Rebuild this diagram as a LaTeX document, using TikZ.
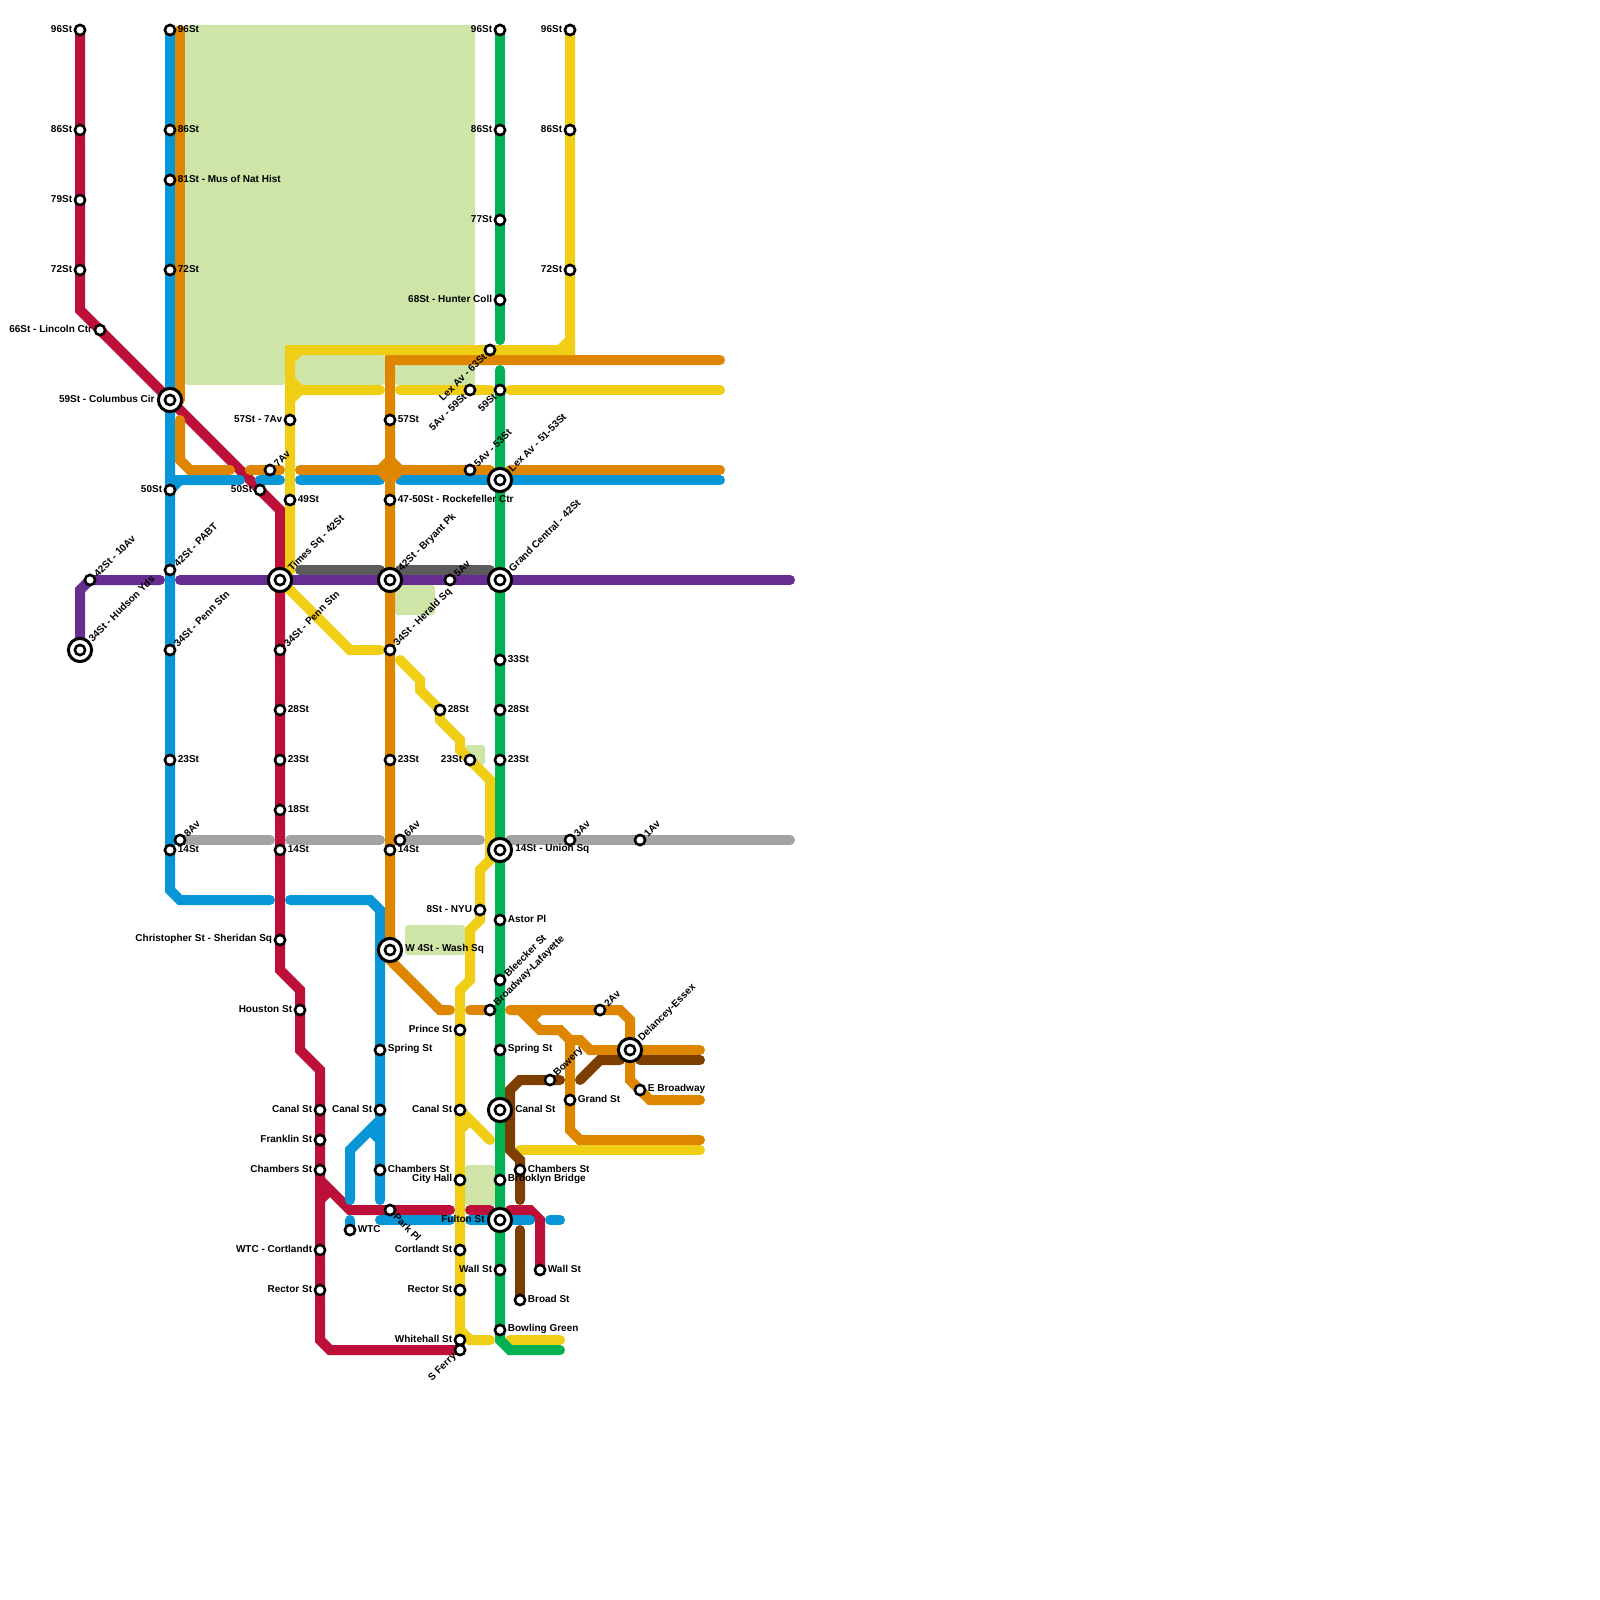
\documentclass[tikz,border=0pt]{standalone}
\usepackage{fontspec}
\setmainfont{Liberation Sans}
\pgfdeclarelayer{parks}
\pgfdeclarelayer{lines}
\pgfsetlayers{parks,lines,main}
\definecolor{cred}{HTML}{BD1038}
\definecolor{cblue}{HTML}{0896D7}
\definecolor{corange}{HTML}{DF8600}
\definecolor{cyellow}{HTML}{F0CE15}
\definecolor{cgreen}{HTML}{00B251}
\definecolor{cpurple}{HTML}{662C90}
\definecolor{cbrown}{HTML}{7C3F00}
\definecolor{cdgrey}{HTML}{5B5B5B}
\definecolor{clgrey}{HTML}{A2A2A2}
\definecolor{cpark}{HTML}{CFE4A7}
\tikzset{
  x=0.5pt,y=-0.5pt,
  stn/.style={circle,draw=black,fill=white,line width=1.3pt,minimum size=5.1pt,inner sep=0pt},
  hubouter/.style={circle,draw=black,fill=white,line width=1.5pt,minimum size=11.6pt,inner sep=0pt},
  hubinner/.style={circle,draw=black,fill=white,line width=1.3pt,minimum size=5.1pt,inner sep=0pt},
  lbl/.style={inner sep=0pt,font=\bfseries\fontsize{5pt}{6pt}\selectfont,text=black},
  metro/.style={line width=5pt,line cap=round,line join=miter,miter limit=4},
  park/.style={fill=cpark,rounded corners=1.5pt},
}
% station with label right / left / rotated up-right / rotated ending at the station
\newcommand{\sR}[4]{\node[stn] (#1) at (#2,#3) {}; \node[lbl,anchor=west] (#1-l) at ([shift={(7.5,-0.8)}]#2,#3) {#4};}
\newcommand{\sL}[4]{\node[stn] (#1) at (#2,#3) {}; \node[lbl,anchor=east] (#1-l) at ([shift={(-7.5,-0.8)}]#2,#3) {#4};}
\newcommand{\sU}[4]{\node[stn] (#1) at (#2,#3) {}; \node[lbl,anchor=west,rotate=45] (#1-l) at ([shift={(5.5,-5)}]#2,#3) {#4};}
\newcommand{\sD}[4]{\node[stn] (#1) at (#2,#3) {}; \node[lbl,anchor=east,rotate=45] (#1-l) at ([shift={(-5,5)}]#2,#3) {#4};}
\newcommand{\sP}[4]{\node[stn] (#1) at (#2,#3) {}; \node[lbl,anchor=west,rotate=-45] (#1-l) at ([shift={(5,5)}]#2,#3) {#4};}
\newcommand{\hubmark}[3]{\node[hubouter] (#1) at (#2,#3) {}; \node[hubinner] (#1-i) at (#2,#3) {};}
\newcommand{\hR}[4]{\hubmark{#1}{#2}{#3} \node[lbl,anchor=west] (#1-l) at ([shift={(15,-0.8)}]#2,#3) {#4};}
\newcommand{\hL}[4]{\hubmark{#1}{#2}{#3} \node[lbl,anchor=east] (#1-l) at ([shift={(-15,-0.8)}]#2,#3) {#4};}
\newcommand{\hU}[4]{\hubmark{#1}{#2}{#3} \node[lbl,anchor=west,rotate=45] (#1-l) at ([shift={(10,-10)}]#2,#3) {#4};}
\begin{document}
\begin{tikzpicture}
\useasboundingbox (0,0) rectangle (1600,1600);
\begin{pgfonlayer}{parks}
\fill[white] (0,0) rectangle (1600,1600);
\fill[park] (185,25) rectangle (475,346);
\fill[park] (185,340) rectangle (285,385);
\fill[park] (295,355) rectangle (385,385);
\fill[park] (395,365) rectangle (475,385);
\fill[park] (395,585) rectangle (435,615);
\fill[park] (465,745) rectangle (485,765);
\fill[park] (405,925) rectangle (465,955);
\fill[park] (465,1165) rectangle (495,1205);
\end{pgfonlayer}
% stations
\sL{a96}{80}{30}{96St} \sL{a86}{80}{130}{86St} \sL{a79}{80}{200}{79St} \sL{a72}{80}{270}{72St}
\sL{a66}{100}{330}{66St - Lincoln Ctr}
\hL{col}{170}{400}{59St - Columbus Cir}
\sR{u96}{170}{30}{96St} \sR{u86}{170}{130}{86St} \sR{u81}{170}{180}{81St - Mus of Nat Hist} \sR{u72}{170}{270}{72St}
\sL{u50}{170}{490}{50St} \sU{u42}{170}{570}{42St - PABT} \sU{u34}{170}{650}{34St - Penn Stn}
\sR{u23}{170}{760}{23St} \sU{u8a}{180}{840}{8Av} \sR{u14}{170}{850}{14St}
\sU{p42}{90}{580}{42St - 10Av} \hU{hy}{80}{650}{34St - Hudson Yds}
\sU{s7a}{270}{470}{7Av} \sL{b50}{260}{490}{50St} \sL{y57}{290}{420}{57St - 7Av} \sR{y49}{290}{500}{49St}
\hU{ts}{280}{580}{Times Sq - 42St} \sU{b34}{280}{650}{34St - Penn Stn}
\sR{b28}{280}{710}{28St} \sR{b23}{280}{760}{23St} \sR{b18}{280}{810}{18St} \sR{b14}{280}{850}{14St}
\sL{chr}{280}{940}{Christopher St - Sheridan Sq} \sL{hou}{300}{1010}{Houston St}
\sL{rca}{320}{1110}{Canal St} \sL{rfr}{320}{1140}{Franklin St} \sL{rch}{320}{1170}{Chambers St}
\sL{rwc}{320}{1250}{WTC - Cortlandt} \sL{rre}{320}{1290}{Rector St}
\sR{bsp}{380}{1050}{Spring St} \sL{bca}{380}{1110}{Canal St} \sR{bch}{380}{1170}{Chambers St}
\sP{ppl}{390}{1210}{Park Pl} \sR{wtc}{350}{1230}{WTC}
\sR{o57}{390}{420}{57St} \sR{o47}{390}{500}{47-50St - Rockefeller Ctr}
\hU{bry}{390}{580}{42St - Bryant Pk} \sU{o34}{390}{650}{34St - Herald Sq} \sR{o23}{390}{760}{23St}
\sU{g6a}{400}{840}{6Av} \sR{o14}{390}{850}{14St} \hR{w4}{390}{950}{W 4St - Wash Sq}
\sU{p5a}{450}{580}{5Av} \sR{q28}{440}{710}{28St} \sL{q23}{470}{760}{23St} \sL{nyu}{480}{910}{8St - NYU}
\sL{pri}{460}{1030}{Prince St} \sL{yca}{460}{1110}{Canal St} \sL{cit}{460}{1180}{City Hall}
\sL{yco}{460}{1250}{Cortlandt St} \sL{yre}{460}{1290}{Rector St} \sL{whi}{460}{1340}{Whitehall St}
\sD{sfe}{460}{1350}{S Ferry}
\sD{l63}{490}{350}{Lex Av - 63St} \sD{f59}{470}{390}{5Av - 59St} \sD{g59}{500}{390}{59St} \sU{f53}{470}{470}{5Av - 53St}
\sL{g96}{500}{30}{96St} \sL{g86}{500}{130}{86St} \sL{g77}{500}{220}{77St} \sL{g68}{500}{300}{68St - Hunter Coll}
\hU{lex}{500}{480}{Lex Av - 51-53St} \hU{gct}{500}{580}{Grand Central - 42St}
\sR{g33}{500}{660}{33St} \sR{g28}{500}{710}{28St} \sR{g23}{500}{760}{23St}
\hR{uni}{500}{850}{14St - Union Sq} \sR{ast}{500}{920}{Astor Pl} \sU{ble}{500}{980}{Bleecker St}
\sU{bla}{490}{1010}{Broadway-Lafayette} \sR{gsp}{500}{1050}{Spring St} \hR{gca}{500}{1110}{Canal St}
\sR{bro}{500}{1180}{Brooklyn Bridge} \hL{ful}{500}{1220}{Fulton St} \sL{gwa}{500}{1270}{Wall St} \sR{bow}{500}{1330}{Bowling Green}
\sL{r96}{570}{30}{96St} \sL{r86}{570}{130}{86St} \sL{r72}{570}{270}{72St}
\sU{a3v}{570}{840}{3Av} \sU{a1v}{640}{840}{1Av} \sU{a2v}{600}{1010}{2Av}
\hU{del}{630}{1050}{Delancey-Essex} \sR{ebr}{640}{1090}{E Broadway} \sU{bwy}{550}{1080}{Bowery}
\sR{gra}{570}{1100}{Grand St} \sR{nch}{520}{1170}{Chambers St} \sR{rwa}{540}{1270}{Wall St} \sR{brd}{520}{1300}{Broad St}
% free ends of the lines
\foreach \n/\x/\y in {
 eb1/270/900,eb2/290/900,eb3/380/1200,eb4/350/1200,eb5/350/1220,eb6/380/1220,eb7/450/1220,eb8/470/1220,eb9/530/1220,
 eb10/550/1220,eb11/560/1220,eb12/240/480,eb13/260/480,eb14/280/480,eb15/300/480,eb16/380/480,eb17/400/480,eb18/720/480,
 eo1/180/30,eo2/180/400,eo3/180/420,eo4/230/470,eo5/250/470,eo6/280/470,eo7/300/470,eo8/490/470,eo9/510/470,eo10/720/470,
 eo11/720/360,eo12/450/1010,eo13/470/1010,eo14/510/1010,eo15/700/1100,eo16/700/1050,eo17/700/1140,
 er1/450/1210,er2/470/1210,er3/490/1210,er4/510/1210,
 ey1/380/650,ey2/380/390,ey3/400/390,ey4/490/390,ey5/510/390,ey6/720/390,ey7/400/660,ey8/490/1340,ey9/490/1140,
 ey10/520/1150,ey11/700/1150,ey12/510/1340,ey13/560/1340,
 eg1/500/340,eg2/500/370,eg3/560/1350,
 ep1/160/580,ep2/180/580,ep3/790/580,
 ed1/300/570,ed2/380/570,ed3/400/570,ed4/490/570,
 el1/270/840,el2/290/840,el3/380/840,el4/480/840,el5/510/840,el6/790/840,
 ew1/560/1080,ew2/520/1200,ew3/580/1080,ew4/620/1060,ew5/640/1060,ew6/700/1060,ew7/520/1230}
 {\coordinate (\n) at (\x,\y);}
\begin{pgfonlayer}{lines}
% red
\draw[metro,cred] (a96.center)--(a86.center)--(a79.center)--(a72.center)--(80,310)--(a66.center)--(col.center)--(b50.center)--(280,510)--(ts.center)--(b34.center)--(b28.center)--(b23.center)--(b18.center)--(b14.center)--(chr.center)--(280,970)--(300,990)--(hou.center)--(300,1050)--(320,1070)--(rca.center)--(rfr.center)--(rch.center)--(rwc.center)--(rre.center)--(320,1340)--(330,1350)--(sfe.center);
\draw[metro,cred] (320,1180)--(350,1210)--(ppl.center)--(er1);
\draw[metro,cred] (320,1200)--(330,1190);
\draw[metro,cred] (er2)--(er3);
\draw[metro,cred] (er4)--(530,1210)--(540,1220)--(rwa.center);
% blue
\draw[metro,cblue] (u96.center)--(u86.center)--(u81.center)--(u72.center)--(col.center)--(u50.center)--(u42.center)--(u34.center)--(u23.center)--(u14.center)--(170,890)--(180,900)--(eb1);
\draw[metro,cblue] (eb2)--(370,900)--(380,910)--(bsp.center)--(bca.center)--(bch.center)--(eb3);
\draw[metro,cblue] (380,1120)--(350,1150)--(eb4);
\draw[metro,cblue] (380,1140)--(370,1130);
\draw[metro,cblue] (eb5)--(wtc.center);
\draw[metro,cblue] (eb6)--(eb7);
\draw[metro,cblue] (eb8)--(ful.center)--(eb9);
\draw[metro,cblue] (eb10)--(eb11);
\draw[metro,cblue] (u50.center)--(180,480)--(eb12);
\draw[metro,cblue] (170,480)--(180,480);
\draw[metro,cblue] (eb13)--(eb14);
\draw[metro,cblue] (eb15)--(eb16);
\draw[metro,cblue] (eb17)--(lex.center)--(eb18);
% greys and purple
\draw[metro,cdgrey] (ed1)--(ed2);
\draw[metro,cdgrey] (ed3)--(ed4);
\draw[metro,clgrey] (u8a.center)--(el1);
\draw[metro,clgrey] (el2)--(el3);
\draw[metro,clgrey] (g6a.center)--(el4);
\draw[metro,clgrey] (el5)--(a3v.center)--(a1v.center)--(el6);
\draw[metro,cpurple] (hy.center)--(80,590)--(p42.center)--(ep1);
\draw[metro,cpurple] (ep2)--(ts.center)--(bry.center)--(p5a.center)--(gct.center)--(ep3);
% orange
\draw[metro,corange] (eo1)--(eo2);
\draw[metro,corange] (eo3)--(180,460)--(190,470)--(eo4);
\draw[metro,corange] (eo5)--(s7a.center)--(eo6);
\draw[metro,corange] (eo7)--(f53.center)--(eo8);
\draw[metro,corange] (eo9)--(eo10);
\draw[metro,corange,fill=corange,line cap=butt] (380,470)--(390,460)--(400,470)--(390,480)--cycle;
\draw[metro,corange] (eo11)--(390,360)--(o57.center)--(o47.center)--(bry.center)--(o34.center)--(o23.center)--(o14.center)--(w4.center)--(390,960)--(440,1010)--(eo12);
\draw[metro,corange] (eo13)--(bla.center);
\draw[metro,corange] (eo14)--(a2v.center)--(620,1010)--(630,1020)--(del.center)--(630,1080)--(ebr.center)--(650,1100)--(eo15);
\draw[metro,corange] (520,1010)--(540,1030)--(560,1030)--(570,1040)--(580,1040)--(590,1050)--(del.center)--(eo16);
\draw[metro,corange] (540,1010)--(530,1020);
\draw[metro,corange] (570,1040)--(gra.center)--(570,1130)--(580,1140)--(eo17);
% yellow
\draw[metro,cyellow] (r96.center)--(r86.center)--(r72.center)--(570,350)--(l63.center)--(290,350)--(y57.center)--(y49.center)--(290,570)--(ts.center)--(350,650)--(ey1);
\draw[metro,cyellow] (560,350)--(570,340);
\draw[metro,cyellow] (290,360)--(300,350);
\draw[metro,cyellow] (290,380)--(300,390)--(ey2);
\draw[metro,cyellow] (290,400)--(300,390);
\draw[metro,cyellow] (ey3)--(f59.center)--(ey4);
\draw[metro,cyellow] (ey5)--(ey6);
\draw[metro,cyellow] (ey7)--(420,680)--(420,690)--(q28.center)--(440,720)--(460,740)--(460,750)--(q23.center)--(490,780)--(490,860)--(480,870)--(nyu.center)--(480,920)--(470,930)--(470,980)--(460,990)--(pri.center)--(yca.center)--(cit.center)--(yco.center)--(yre.center)--(whi.center);
\draw[metro,cyellow] (460,1330)--(470,1340)--(ey8);
\draw[metro,cyellow] (yca.center)--(ey9);
\draw[metro,cyellow] (460,1130)--(470,1120);
\draw[metro,cyellow] (ey10)--(ey11);
\draw[metro,cyellow] (ey12)--(ey13);
% green
\draw[metro,cgreen] (g96.center)--(g86.center)--(g77.center)--(g68.center)--(eg1);
\draw[metro,cgreen] (eg2)--(g59.center)--(lex.center)--(gct.center)--(g33.center)--(g28.center)--(g23.center)--(uni.center)--(ast.center)--(ble.center)--(gsp.center)--(gca.center)--(bro.center)--(ful.center)--(gwa.center)--(bow.center)--(500,1340)--(510,1350)--(eg3);
% brown
\draw[metro,cbrown] (ew1)--(bwy.center)--(520,1080)--(510,1090)--(510,1150)--(520,1160)--(nch.center)--(ew2);
\draw[metro,cbrown] (ew3)--(600,1060)--(ew4);
\draw[metro,cbrown] (ew5)--(ew6);
\draw[metro,cbrown] (ew7)--(brd.center);
\end{pgfonlayer}
\end{tikzpicture}
\end{document}
